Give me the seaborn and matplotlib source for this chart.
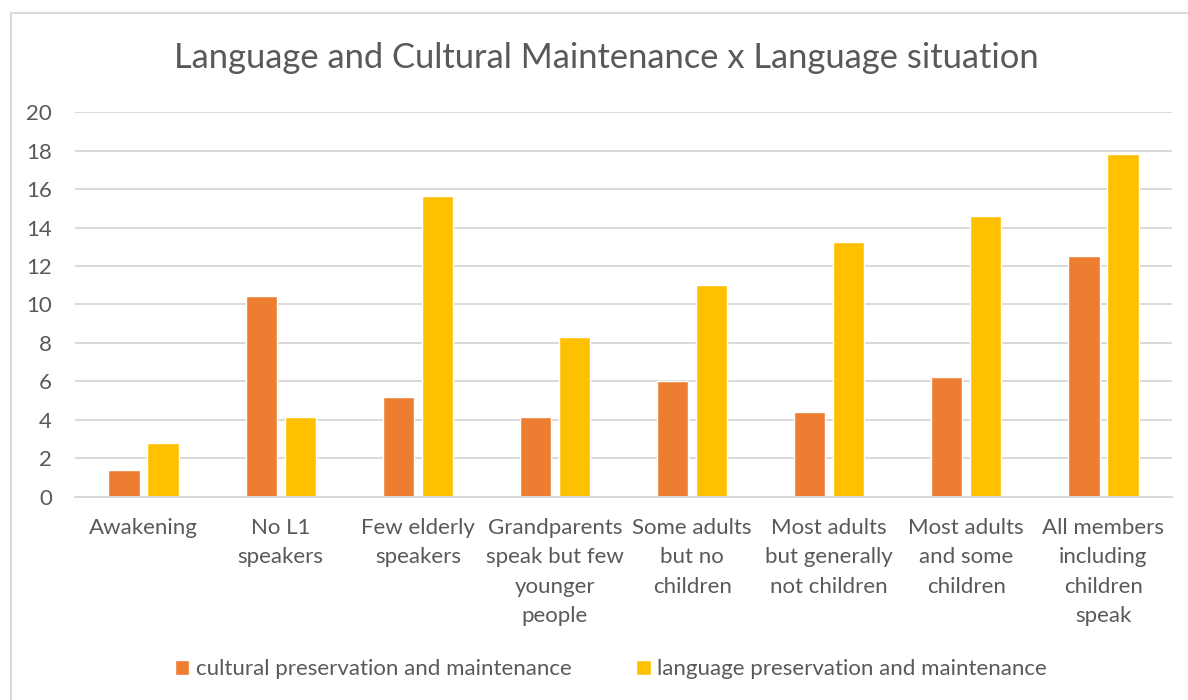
import matplotlib
matplotlib.use("Agg")
import matplotlib.pyplot as plt
from matplotlib.patches import Rectangle
import pandas as pd
import seaborn as sns

# Language situation categories (x axis)
categories = [
    "Awakening",
    "No L1\nspeakers",
    "Few elderly\nspeakers",
    "Grandparents\nspeak but few\nyounger\npeople",
    "Some adults\nbut no\nchildren",
    "Most adults\nbut generally\nnot children",
    "Most adults\nand some\nchildren",
    "All members\nincluding\nchildren\nspeak",
]
series_names = [
    "cultural preservation and maintenance",
    "language preservation and maintenance",
]
cultural = [1.4, 10.42, 5.2, 4.17, 6.0, 4.4, 6.25, 12.5]
language = [2.78, 4.17, 15.63, 8.33, 11.0, 13.25, 14.6, 17.85]
y_ticks = [0, 2, 4, 6, 8, 10, 12, 14, 16, 18, 20]

colors = ["#ED7D31", "#FFC000"]
text_gray = "#595959"
grid_gray = "#D9D9D9"

df = pd.DataFrame({
    "situation": categories * 2,
    "series": [series_names[0]] * len(categories) + [series_names[1]] * len(categories),
    "value": cultural + language,
})

sns.set_theme(style="white")
plt.rcParams["font.family"] = ["Lato", "DejaVu Sans"]

W, H = 1188, 700
fig = plt.figure(figsize=(W / 100, H / 100), dpi=100)
ax = fig.add_axes([75 / W, 1 - 496.7 / H, (1172 - 75) / W, (496.7 - 112.3) / H])

sns.barplot(
    data=df, x="situation", y="value", hue="series",
    order=categories, hue_order=series_names, palette=colors,
    width=0.57, gap=0.2, saturation=1, ax=ax, legend=True,
)

ax.set_ylim(0, 20)
ax.set_xlim(-0.5, len(categories) - 0.5)
ax.set_yticks(y_ticks)
ax.set_yticklabels([str(t) for t in y_ticks])
ax.yaxis.grid(True, color=grid_gray, linewidth=1.4)
ax.set_axisbelow(True)
for side in ["top", "right", "left"]:
    ax.spines[side].set_visible(False)
ax.spines["bottom"].set_color(grid_gray)
ax.spines["bottom"].set_linewidth(1.4)
ax.set_xlabel("")
ax.set_ylabel("")
ax.tick_params(axis="y", length=0, pad=16.5, labelsize=16, labelcolor=text_gray)
ax.tick_params(axis="x", length=0, pad=15, labelsize=16, labelcolor=text_gray)
for lbl in ax.get_xticklabels():
    lbl.set_linespacing(1.6)
for lbl in ax.get_yticklabels():
    lbl.set_horizontalalignment("right")

# Legend along the bottom
handles, labels = ax.get_legend_handles_labels()
ax.get_legend().remove()
fig.legend(
    handles, labels, loc="center", bbox_to_anchor=(611 / W, 1 - 669 / H),
    ncol=2, frameon=False, fontsize=16, labelcolor=text_gray,
    handlelength=0.65, handleheight=0.65, handletextpad=0.3, columnspacing=2.9,
)

fig.text(606 / W, 1 - 58 / H, "Language and Cultural Maintenance x Language situation",
         ha="center", va="center", fontsize=24.8, color=text_gray)

# Chart area frame (runs past the right and bottom edges of the canvas)
fig.patches.append(Rectangle((11 / W, -0.1), 1.2, 1.1 - 13 / H,
                             transform=fig.transFigure, fill=False,
                             edgecolor=grid_gray, linewidth=1.4))

fig.savefig("out.png", dpi=100)
